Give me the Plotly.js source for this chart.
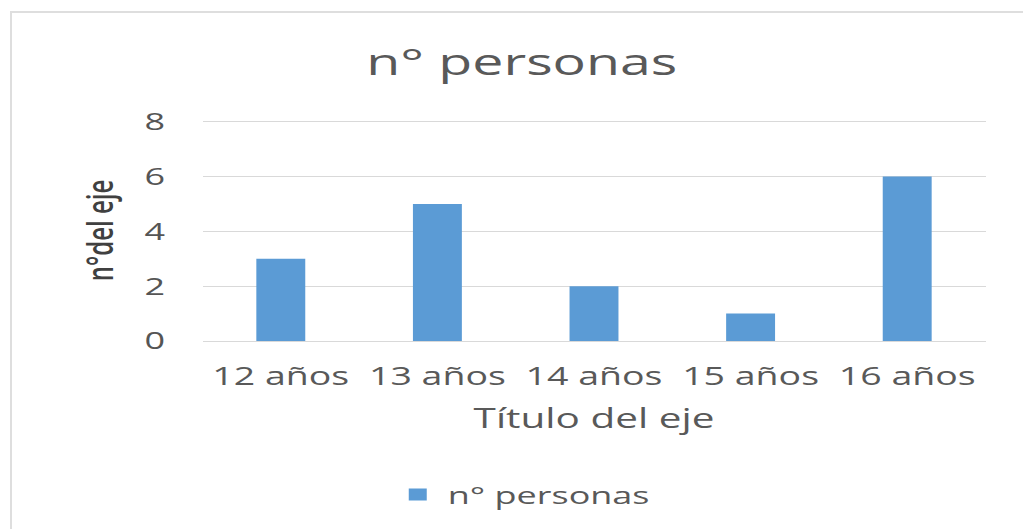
<!DOCTYPE html>
<html>
<head>
<meta charset="utf-8">
<script src="https://cdn.plot.ly/plotly-3.0.1.min.js"></script>
<style>
  html, body { margin: 0; padding: 0; background: #ffffff; overflow: hidden; }
  #frame { position: absolute; left: 10px; top: 11px; width: 1100px; height: 600px;
           border-left: 2px solid #dedede; border-top: 2px solid #dedede; }
  #chart { position: absolute; left: 0; top: 0; width: 682px; height: 529px;
           transform: scaleX(1.5); transform-origin: 0 0; }
</style>
</head>
<body>
<div id="frame"></div>
<div id="chart"></div>
<script>
const categories = ["12 años", "13 años", "14 años", "15 años", "16 años"];
const personas = [3, 5, 2, 1, 6];
const yTicks = [0, 2, 4, 6, 8];
const seriesName = "n° personas";
const chartTitle = "n° personas";
const xTitle = "Título del eje";
const yTitle = "n°del eje";

const textColor = "#595959";
const font = "Open Sans, Segoe UI, sans-serif";

const trace = {
  type: "bar",
  x: categories,
  y: personas,
  name: seriesName,
  marker: { color: "#5b9bd5" },
  showlegend: true,
  hoverinfo: "x+y"
};

const layout = {
  width: 682,
  height: 529,
  paper_bgcolor: "rgba(0,0,0,0)",
  plot_bgcolor: "rgba(0,0,0,0)",
  margin: { l: 135, r: 25, t: 120.35, b: 187.5, pad: 0 },
  bargap: 0.6875,
  title: {
    text: chartTitle,
    font: { family: font, size: 37, color: textColor },
    xref: "container", x: 0.51, xanchor: "center",
    yref: "container", y: 1 - 62 / 529, yanchor: "middle"
  },
  xaxis: {
    type: "category",
    showgrid: false,
    showline: true,
    linecolor: "#d9d9d9",
    linewidth: 1,
    ticks: "",
    tickfont: { family: font, size: 25, color: textColor },
    ticklabelstandoff: 13,
    title: { text: xTitle, font: { family: font, size: 27, color: textColor }, standoff: 18 },
    automargin: false,
    fixedrange: true
  },
  yaxis: {
    range: [0, 8.06],
    tickvals: yTicks,
    ticktext: yTicks.map(String),
    showgrid: true,
    gridcolor: "#d9d9d9",
    gridwidth: 1,
    zeroline: false,
    showline: false,
    ticks: "",
    ticklabelstandoff: 24,
    tickfont: { family: font, size: 24, color: "#555555" },
    title: { text: yTitle, font: { family: font, size: 24, color: "#404040", weight: 600 }, standoff: 13 },
    automargin: false,
    fixedrange: true
  },
  legend: {
    orientation: "h",
    xref: "container", x: 0.511, xanchor: "center",
    yref: "container", y: 1 - 495 / 529, yanchor: "middle",
    font: { family: font, size: 24, color: textColor },
    itemwidth: 30,
    bgcolor: "rgba(0,0,0,0)"
  },
  showlegend: true
};

Plotly.newPlot("chart", [trace], layout, { displayModeBar: false, staticPlot: true });
</script>
</body>
</html>
